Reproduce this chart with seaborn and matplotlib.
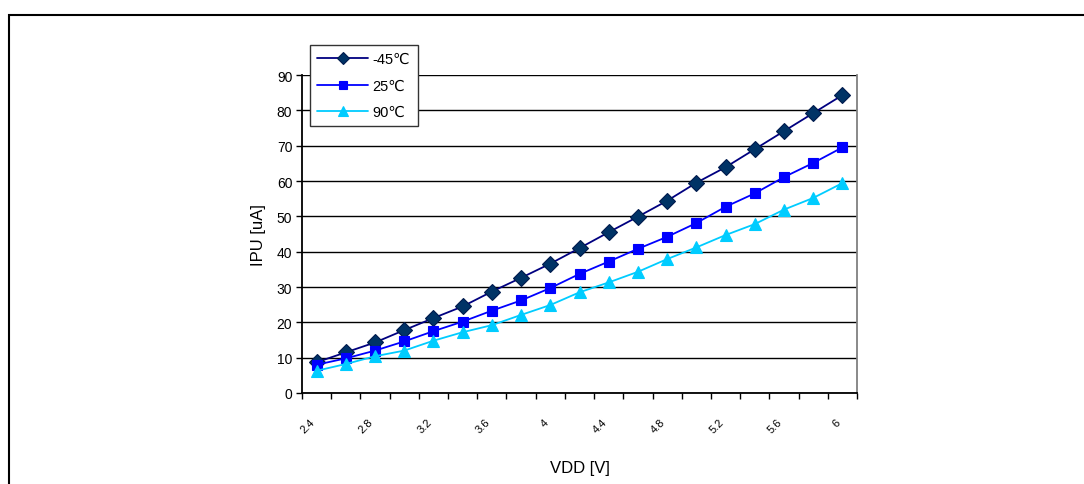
import matplotlib
matplotlib.use("Agg")
import matplotlib.pyplot as plt
from matplotlib.patches import Rectangle
import seaborn as sns
import pandas as pd

# ---- data ----
vdd = [2.4, 2.6, 2.8, 3.0, 3.2, 3.4, 3.6, 3.8, 4.0, 4.2, 4.4, 4.6, 4.8, 5.0, 5.2, 5.4, 5.6, 5.8, 6.0]
ipu_m45 = [8.7, 11.5, 14.3, 17.8, 21.2, 24.5, 28.7, 32.6, 36.6, 41.0, 45.5, 49.9, 54.4, 59.5, 63.9, 69.0, 74.1, 79.2, 84.3]
ipu_25 = [8.0, 9.8, 12.0, 14.6, 17.5, 20.2, 23.3, 26.2, 29.7, 33.7, 37.2, 40.8, 44.2, 48.1, 52.7, 56.5, 61.1, 65.1, 69.5]
ipu_90 = [6.3, 8.2, 10.4, 12.0, 14.8, 17.2, 19.2, 22.1, 24.9, 28.5, 31.3, 34.3, 37.9, 41.2, 44.7, 47.8, 51.9, 55.2, 59.4]
series_names = ["-45\u2103", "25\u2103", "90\u2103"]
xtick_vals = [2.4, 2.8, 3.2, 3.6, 4.0, 4.4, 4.8, 5.2, 5.6, 6.0]
xtick_labels = ["2.4", "2.8", "3.2", "3.6", "4", "4.4", "4.8", "5.2", "5.6", "6"]
yticks = [0, 10, 20, 30, 40, 50, 60, 70, 80, 90]

sns.set_theme(style="white")
plt.rcParams["font.family"] = ["Liberation Sans", "DejaVu Sans"]
plt.rcParams["text.color"] = "black"
plt.rcParams["axes.labelcolor"] = "black"
plt.rcParams["xtick.color"] = "black"
plt.rcParams["ytick.color"] = "black"

fig = plt.figure(figsize=(10.84, 4.85), dpi=100)
ax = fig.add_axes([302 / 1084, (485 - 394) / 485, 555 / 1084, 318 / 485])

# outer frame
fig.patches.append(Rectangle((9 / 1084, -0.05), 1.2, (485 - 16) / 485 + 0.05,
                             transform=fig.transFigure, fill=False,
                             edgecolor="black", linewidth=1.5, zorder=0))

styles = [
    (ipu_m45, series_names[0], "#000080", "D", "#003366", "#001a4d", 8),
    (ipu_25, series_names[1], "#0000FF", "s", "#0000FF", "#0000FF", 7.5),
    (ipu_90, series_names[2], "#00CCFF", "^", "#00CCFF", "#00CCFF", 8.5),
]
for vals, name, lc, mk, mfc, mec, ms in styles:
    df = pd.DataFrame({"VDD": vdd, "IPU": vals})
    sns.lineplot(data=df, x="VDD", y="IPU", ax=ax, color=lc, marker=mk,
                 markersize=ms, markerfacecolor=mfc, markeredgecolor=mec,
                 markeredgewidth=0.8, linewidth=1.3, label=name, zorder=3)

ax.set_xlim(2.3, 6.1)
ax.set_ylim(0, 90)

# category boundary ticks
bounds = [v - 0.1 for v in vdd] + [vdd[-1] + 0.1]
ax.set_xticks(bounds)
ax.set_xticklabels([])
ax.tick_params(axis="x", which="major", direction="out", length=4, width=1, color="black", bottom=True)
ax.set_xticks(xtick_vals, minor=True)
ax.set_xticklabels(xtick_labels, minor=True, rotation=45, ha="right", fontsize=8)
ax.tick_params(axis="x", which="minor", length=0, pad=17, bottom=True)

ax.set_yticks(yticks)
ax.tick_params(axis="y", direction="out", length=4, width=1, color="black", left=True, labelsize=10, pad=3)
ax.yaxis.grid(True, color="black", linewidth=1)
ax.xaxis.grid(False)
ax.set_axisbelow(True)

for side in ["left", "bottom"]:
    ax.spines[side].set_color("black")
    ax.spines[side].set_linewidth(1.3)
ax.spines["right"].set_color("#808080")
ax.spines["right"].set_linewidth(1.3)
ax.spines["top"].set_visible(False)

ax.set_xlabel("VDD [V]", fontsize=12, labelpad=18)
ax.set_ylabel("IPU [uA]", fontsize=12, labelpad=8)

leg = ax.legend(loc="upper left", bbox_to_anchor=((310 - 302) / 555, (394 - 46) / 318),
                borderaxespad=0, fontsize=10.5, frameon=True, fancybox=False,
                edgecolor="#333333", framealpha=1, handlelength=3.5,
                labelspacing=0.85, borderpad=0.5, handletextpad=0.3,
                markerscale=0.8)
leg.get_frame().set_linewidth(1.0)

fig.savefig("out.png", dpi=100)
